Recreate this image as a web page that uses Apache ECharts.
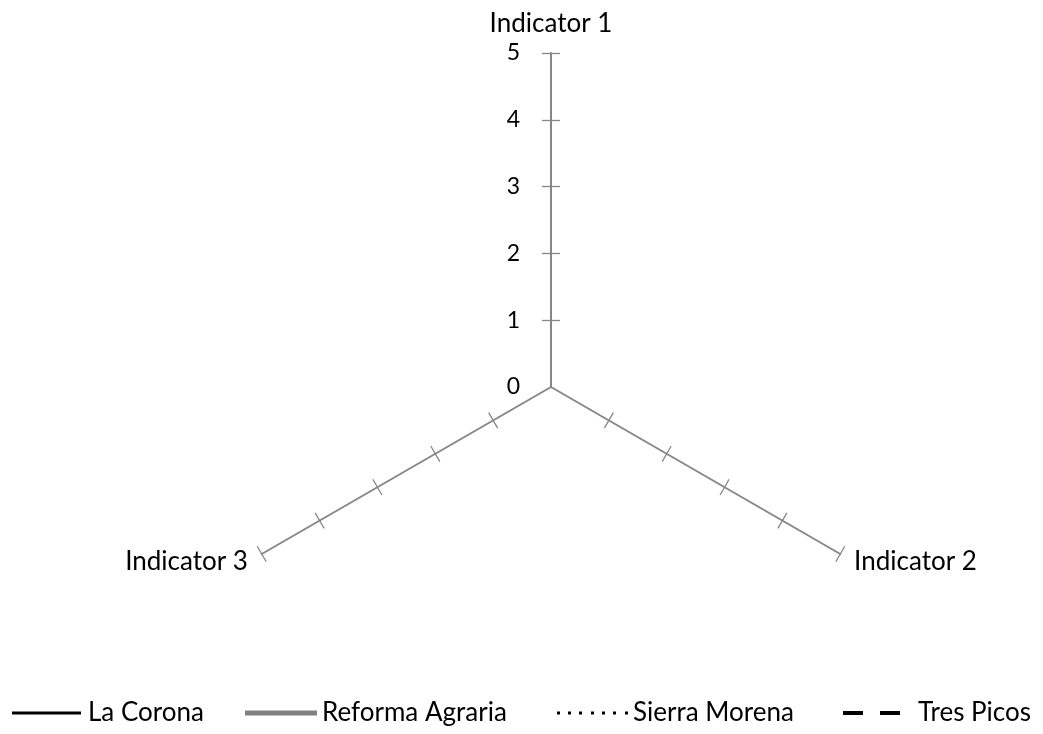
<!DOCTYPE html>
<html>
<head>
<meta charset="utf-8">
<script src="https://cdn.jsdelivr.net/npm/echarts@6/dist/echarts.min.js"></script>
<style>
html,body{margin:0;padding:0;background:#fff;}
#chart{width:1043px;height:734px;}
</style>
</head>
<body>
<div id="chart"></div>
<script>
// Data
const indicators = ['Indicator 1', 'Indicator 2', 'Indicator 3'];
const axisMax = 5;
const tickValues = [0, 1, 2, 3, 4, 5];
const tickMarks = [1, 2, 3, 4, 5];
const seriesNames = ['La Corona', 'Reforma Agraria', 'Sierra Morena', 'Tres Picos'];
const laCorona = [];
const reformaAgraria = [];
const sierraMorena = [];
const tresPicos = [];

const FONT = 'Lato, "Open Sans", sans-serif';
const AXIS_GRAY = '#878787';
const center = [551, 387];
const radius = 334;

// ECharts lays indicators out counter-clockwise; the reference runs clockwise,
// so indicator order is mirrored (first stays on top).
const displayOrder = [0, 2, 1];
const indicatorDefs = displayOrder.map(i => ({ name: indicators[i], min: 0, max: axisMax }));
const reorder = arr => displayOrder.map(i => arr[i]).filter(v => v !== undefined);

function radarBase(extra) {
  return Object.assign({
    indicator: indicatorDefs,
    center: center,
    radius: radius,
    startAngle: 90,
    splitNumber: 5,
    shape: 'polygon',
    splitLine: { show: false },
    splitArea: { show: false },
    axisLabel: { show: false }
  }, extra);
}

const legendIcons = [
  'path://M0,0H69V3H0Z',
  'path://M0,0H72V5H0Z',
  'path://M0,0h3v3h-3z M11,0h3v3h-3z M22,0h3v3h-3z M34,0h3v3h-3z M45,0h3v3h-3z M56,0h3v3h-3z M68,0h3v3h-3z',
  'path://M0,0h20v4h-20z M37,0h20v4h-20z'
];
const legendDims = [[69, 3], [72, 5], [71, 3], [57, 4]];
const legendLeft = [12, 245, 557, 843];
const legendTextPad = [[0, 0, 0, 2], [0, 0, 0, 0], [0, 0, 0, 0], [0, 0, 0, 13]];

const seriesColors = ['#000000', '#808080', '#000000', '#000000'];
const seriesTypes = ['solid', 'solid', 'dotted', 'dashed'];
const seriesValues = [laCorona, reformaAgraria, sierraMorena, tresPicos];

const option = {
  backgroundColor: '#ffffff',
  animation: false,
  textStyle: { fontFamily: FONT },
  radar: [
    radarBase({
      axisName: { color: '#000', fontSize: 26, fontFamily: FONT },
      nameGap: 16,
      axisLine: { show: true, lineStyle: { color: AXIS_GRAY, width: 2 } },
      axisTick: { show: true, length: 9, customValues: tickMarks, lineStyle: { color: AXIS_GRAY, width: 1.3 } }
    }),
    radarBase({
      axisName: { show: false },
      axisLine: { show: false },
      axisTick: { show: true, length: -9, customValues: tickMarks, lineStyle: { color: AXIS_GRAY, width: 1.3 } }
    })
  ],
  grid: { left: center[0], top: center[1] - radius, width: 1, height: radius, containLabel: false },
  xAxis: { type: 'value', show: false, min: 0, max: 1 },
  yAxis: {
    type: 'value', min: 0, max: axisMax, interval: 1,
    axisLine: { show: false }, axisTick: { show: false }, splitLine: { show: false },
    axisLabel: { show: true, margin: 31, color: '#000', fontSize: 23, fontFamily: FONT,
      customValues: tickValues }
  },
  legend: seriesNames.map((n, i) => ({
    data: [{ name: n, icon: legendIcons[i] }],
    left: legendLeft[i],
    top: 700,
    itemWidth: legendDims[i][0],
    itemHeight: legendDims[i][1],
    itemGap: 0,
    padding: 0,
    selectedMode: false,
    textStyle: { color: '#000', fontSize: 26, fontFamily: FONT, padding: legendTextPad[i] }
  })),
  series: seriesNames.map((n, i) => ({
    name: n,
    type: 'radar',
    radarIndex: 0,
    symbol: 'none',
    itemStyle: { color: seriesColors[i] },
    lineStyle: { color: seriesColors[i], type: seriesTypes[i], width: 2.25 },
    data: [{ name: n, value: reorder(seriesValues[i]) }]
  }))
};

const chart = echarts.init(document.getElementById('chart'), null, { renderer: 'canvas' });
chart.setOption(option);
</script>
</body>
</html>
